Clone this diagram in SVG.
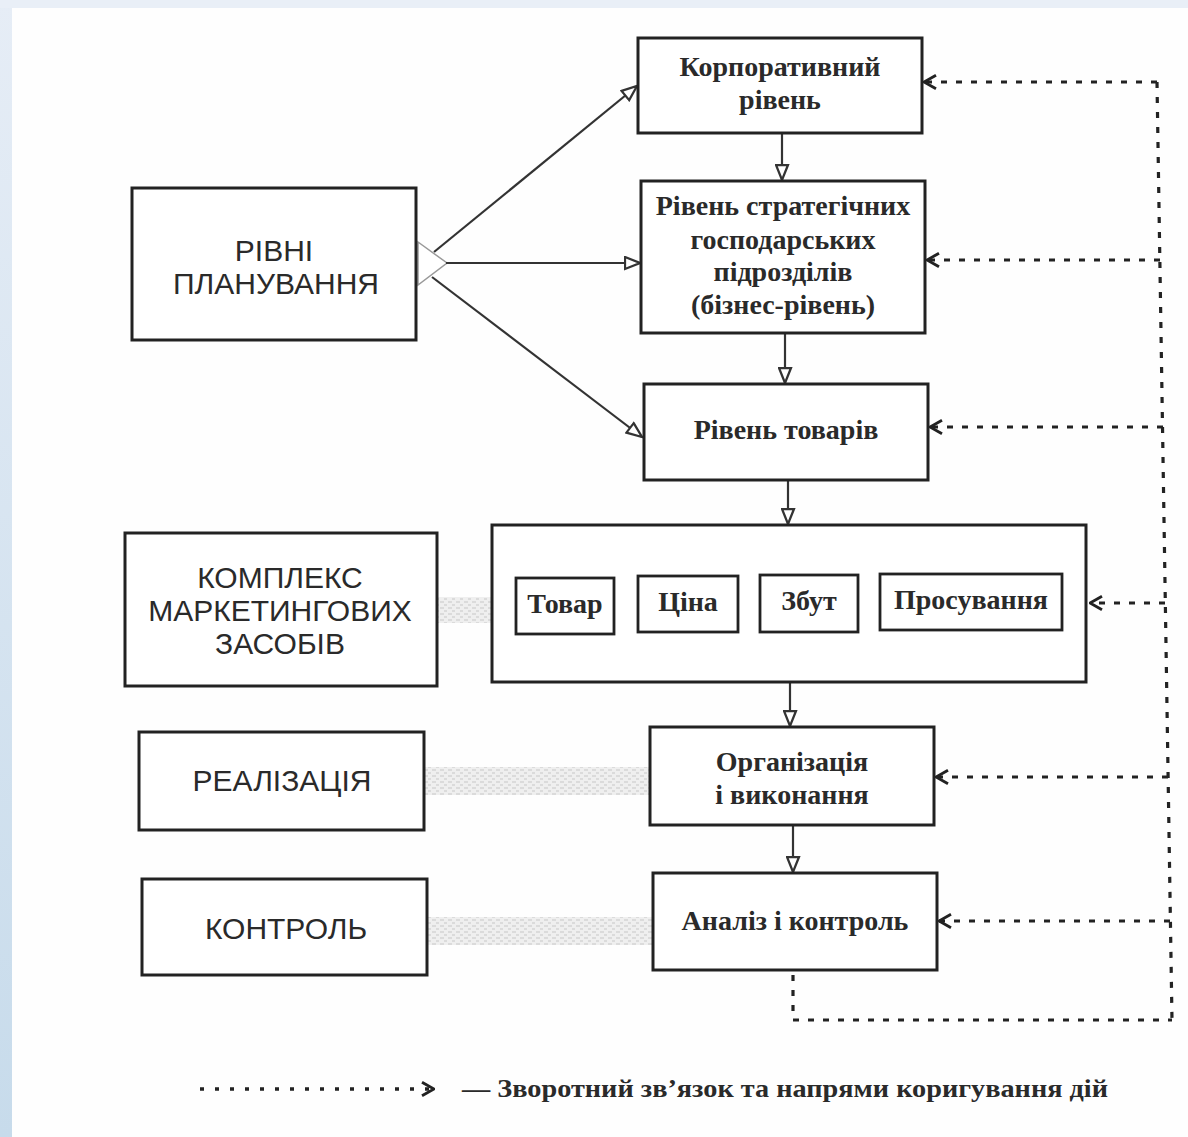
<svg xmlns="http://www.w3.org/2000/svg" width="1188" height="1137" viewBox="0 0 1188 1137">
<defs>
<linearGradient id="edge" x1="0" y1="0" x2="0" y2="1">
<stop offset="0" stop-color="#e6edf6"/>
<stop offset="1" stop-color="#c7dbeb"/>
</linearGradient>
<pattern id="hatch" width="8" height="6" patternUnits="userSpaceOnUse">
<rect width="8" height="6" fill="#efefef"/>
<path d="M0,2 h4 M4,5 h3" stroke="#c8c8c8" stroke-width="1.2"/>
</pattern>
<marker id="tri" viewBox="0 0 12 10" refX="11" refY="5" markerWidth="18" markerHeight="15" markerUnits="userSpaceOnUse" orient="auto">
<path d="M1,1 L11,5 L1,9 z" fill="#fff" stroke="#333" stroke-width="1.5"/>
</marker>
<marker id="chev" viewBox="0 0 12 12" refX="11" refY="6" markerWidth="16" markerHeight="16" markerUnits="userSpaceOnUse" orient="auto">
<path d="M2,1 L11,6 L2,11" fill="none" stroke="#222" stroke-width="2.2"/>
</marker>
</defs>
<style>
.box{fill:#fff;stroke:#222;stroke-width:3}
.sm{fill:#fff;stroke:#222;stroke-width:2.8}
.t{font-family:"Liberation Serif","DejaVu Serif",serif;font-weight:bold;font-size:28px;fill:#2a2a2a;text-anchor:middle}
.L{font-family:"Liberation Sans",Arial,sans-serif;font-size:30px;fill:#2a2a2a;text-anchor:middle}
.sol{stroke:#333;stroke-width:2.2;fill:none;marker-end:url(#tri)}
.dash{stroke:#222;stroke-width:3.2;fill:none;stroke-dasharray:6 9}
.fb{stroke:#222;stroke-width:3.2;fill:none;stroke-dasharray:6 9;marker-end:url(#chev)}
.band{fill:url(#hatch)}
</style>
<rect width="1188" height="1137" fill="#fefefe"/>
<rect x="0" y="0" width="12" height="1137" fill="url(#edge)"/>
<rect x="0" y="0" width="1188" height="8" fill="#e9eff7"/>

<g id="bands">
<rect class="band" x="437" y="597" width="55" height="26"/>
<rect class="band" x="424" y="767" width="226" height="28"/>
<rect class="band" x="427" y="917" width="226" height="28"/>
</g>

<g id="connectors">
<polygon points="418,242 447,263 418,285" fill="#fff" stroke="#999" stroke-width="1.5"/>
<line class="sol" x1="434" y1="252" x2="637" y2="86"/>
<line class="sol" x1="446" y1="263" x2="640" y2="263"/>
<line class="sol" x1="432" y1="277" x2="642" y2="437"/>
<line class="sol" x1="782" y1="133" x2="782" y2="180"/>
<line class="sol" x1="785" y1="333" x2="785" y2="383"/>
<line class="sol" x1="788" y1="480" x2="788" y2="524"/>
<line class="sol" x1="790" y1="682" x2="790" y2="726"/>
<line class="sol" x1="793" y1="825" x2="793" y2="872"/>
<path class="dash" d="M1157,82 L1172,1020"/>
<path class="dash" d="M793,975 L793,1020 L1172,1020"/>
<line class="fb" x1="1157" y1="82" x2="924" y2="82"/>
<line class="fb" x1="1160" y1="260" x2="927" y2="260"/>
<line class="fb" x1="1163" y1="427" x2="930" y2="427"/>
<line class="fb" x1="1165" y1="603" x2="1090" y2="603"/>
<line class="fb" x1="1168" y1="777" x2="936" y2="777"/>
<line class="fb" x1="1170" y1="921" x2="939" y2="921"/>
</g>

<g id="n-corp"><rect class="box" x="638" y="38" width="284" height="95"/>
<text class="t" x="780" y="76">Корпоративний</text><text class="t" x="780" y="109">рівень</text></g>
<g id="n-sgp"><rect class="box" x="641" y="181" width="284" height="152"/>
<text class="t" x="783" y="215">Рівень стратегічних</text><text class="t" x="783" y="249">господарських</text><text class="t" x="783" y="281">підрозділів</text><text class="t" x="783" y="314">(бізнес-рівень)</text></g>
<g id="n-tov"><rect class="box" x="644" y="384" width="284" height="96"/>
<text class="t" x="786" y="439">Рівень товарів</text></g>
<g id="n-mix"><rect class="box" x="492" y="525" width="594" height="157"/>
<rect class="sm" x="516" y="578" width="98" height="56"/><text class="t" x="565" y="613">Товар</text>
<rect class="sm" x="638" y="576" width="100" height="56"/><text class="t" x="688" y="611">Ціна</text>
<rect class="sm" x="760" y="575" width="98" height="57"/><text class="t" x="809" y="610">Збут</text>
<rect class="sm" x="880" y="574" width="182" height="56"/><text class="t" x="971" y="609">Просування</text></g>
<g id="n-org"><rect class="box" x="650" y="727" width="284" height="98"/>
<text class="t" x="792" y="771">Організація</text><text class="t" x="792" y="804">і виконання</text></g>
<g id="n-an"><rect class="box" x="653" y="873" width="284" height="97"/>
<text class="t" x="795" y="930">Аналіз і контроль</text></g>

<g id="n-plan"><rect class="box" x="132" y="188" width="284" height="152"/>
<text class="L" x="274" y="261">РІВНІ</text><text class="L" x="276" y="294">ПЛАНУВАННЯ</text></g>
<g id="n-kms"><rect class="box" x="125" y="533" width="312" height="153"/>
<text class="L" x="280" y="588">КОМПЛЕКС</text><text class="L" x="280" y="621">МАРКЕТИНГОВИХ</text><text class="L" x="280" y="654">ЗАСОБІВ</text></g>
<g id="n-real"><rect class="box" x="139" y="732" width="285" height="98"/>
<text class="L" x="282" y="791">РЕАЛІЗАЦІЯ</text></g>
<g id="n-kontr"><rect class="box" x="142" y="879" width="285" height="96"/>
<text class="L" x="286" y="939">КОНТРОЛЬ</text></g>

<g id="legend">
<line x1="200" y1="1089" x2="434" y2="1089" stroke="#222" stroke-width="3.5" stroke-dasharray="4 11" marker-end="url(#chev)"/>
<text x="462" y="1097" font-family="Liberation Serif, serif" font-weight="bold" font-size="26" fill="#2a2a2a" textLength="646" lengthAdjust="spacingAndGlyphs">— Зворотний зв’язок та напрями коригування дій</text>
</g>
</svg>
